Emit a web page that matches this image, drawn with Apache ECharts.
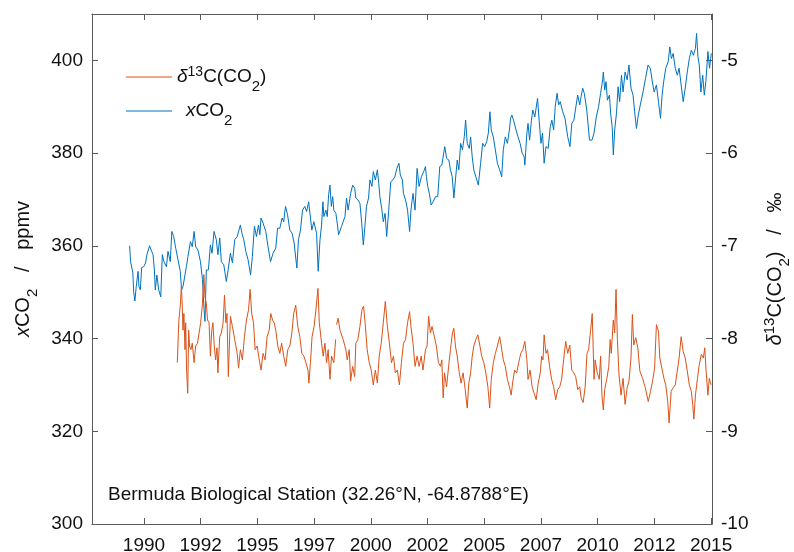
<!DOCTYPE html>
<html><head><meta charset="utf-8">
<script src="https://cdn.jsdelivr.net/npm/echarts@6/dist/echarts.min.js"></script>
<style>html,body{margin:0;padding:0;background:#fff}#c{width:794px;height:552px}</style>
</head><body><div id="c"></div><script>
const FONT = '"Liberation Sans", Arial, sans-serif';
const TXT = '#111';
const AX = '#5a5a5a';
const BLUE = '#0072BD';
const ORANGE = '#D95319';

const xTicks = [1990, 1992.5, 1995, 1997.5, 2000, 2002.5, 2005, 2007.5, 2010, 2012.5, 2015];
const leftTicks = [300, 320, 340, 360, 380, 400];
const rightTicks = [-10, -9, -8, -7, -6, -5];
const stationLabel = 'Bermuda Biological Station (32.26°N, -64.8788°E)';

// xCO2 (ppmv): [decimal year, value]
const xco2 = [
[1989.37,360.0],[1989.41,356.6],[1989.51,354.2],[1989.55,349.9],[1989.60,348.1],[1989.66,351.2],[1989.74,354.5],[1989.78,351.2],[1989.84,350.5],[1989.90,355.3],
[1989.99,355.5],[1990.07,356.3],[1990.13,358.1],[1990.25,360.0],[1990.34,358.8],[1990.40,358.1],[1990.46,354.8],[1990.50,350.5],[1990.57,353.7],[1990.65,350.5],
[1990.74,349.0],[1990.81,358.1],[1990.88,356.6],[1990.99,355.5],[1991.06,358.8],[1991.16,356.6],[1991.23,363.1],[1991.31,362.0],[1991.40,359.5],[1991.50,357.0],
[1991.60,354.5],[1991.66,350.5],[1991.72,351.2],[1991.87,355.5],[1991.94,357.7],[1992.05,360.9],[1992.13,359.8],[1992.21,363.1],[1992.28,359.8],[1992.38,359.1],
[1992.49,356.6],[1992.58,352.7],[1992.65,346.2],[1992.69,343.7],[1992.75,354.8],[1992.84,354.8],[1992.93,360.2],[1993.00,358.4],[1993.09,363.1],[1993.19,361.3],
[1993.26,358.1],[1993.34,361.7],[1993.41,356.6],[1993.52,355.9],[1993.63,352.3],[1993.71,354.8],[1993.81,358.4],[1993.90,356.3],[1994.00,361.3],[1994.11,362.0],
[1994.19,363.4],[1994.25,364.5],[1994.32,362.7],[1994.40,361.3],[1994.49,358.8],[1994.59,357.0],[1994.70,353.7],[1994.78,357.7],[1994.87,364.2],[1994.96,362.0],
[1995.05,364.5],[1995.11,362.4],[1995.16,366.0],[1995.25,364.9],[1995.37,363.1],[1995.47,359.8],[1995.58,356.6],[1995.69,358.4],[1995.81,359.5],[1995.89,363.8],
[1995.99,363.8],[1996.09,366.0],[1996.16,365.2],[1996.24,368.5],[1996.33,366.7],[1996.43,363.4],[1996.53,362.7],[1996.62,360.6],[1996.74,355.2],[1996.81,361.3],
[1996.90,363.4],[1996.99,367.7],[1997.09,368.5],[1997.17,367.4],[1997.26,369.5],[1997.34,369.9],[1997.40,363.4],[1997.49,365.2],[1997.61,362.7],[1997.68,354.5],
[1997.76,361.3],[1997.83,364.5],[1997.89,369.5],[1997.93,366.3],[1998.02,367.7],[1998.08,366.3],[1998.14,371.0],[1998.20,373.1],[1998.26,368.5],[1998.32,370.6],
[1998.37,367.7],[1998.46,367.0],[1998.52,364.9],[1998.58,362.4],[1998.71,364.2],[1998.86,366.3],[1998.93,370.3],[1999.00,367.7],[1999.11,371.3],[1999.20,373.1],
[1999.29,372.4],[1999.34,370.3],[1999.43,369.9],[1999.52,369.2],[1999.60,364.9],[1999.67,360.2],[1999.74,364.2],[1999.81,368.5],[1999.90,370.3],[1999.96,374.2],
[2000.05,372.8],[2000.11,376.0],[2000.20,374.2],[2000.29,376.4],[2000.35,373.5],[2000.40,370.6],[2000.49,367.7],[2000.55,365.2],[2000.63,367.0],[2000.70,362.0],
[2000.79,367.7],[2000.88,373.8],[2000.97,374.2],[2001.06,374.9],[2001.15,376.7],[2001.24,377.8],[2001.30,375.3],[2001.39,374.2],[2001.44,371.3],[2001.53,369.9],
[2001.62,367.7],[2001.71,363.1],[2001.77,367.7],[2001.86,371.3],[2001.95,367.7],[2002.04,376.7],[2002.13,372.8],[2002.23,374.9],[2002.33,376.0],[2002.41,377.1],
[2002.45,374.9],[2002.51,372.8],[2002.58,371.3],[2002.66,368.8],[2002.75,369.5],[2002.85,370.6],[2002.95,370.6],[2003.04,377.1],[2003.13,377.4],[2003.19,377.1],
[2003.26,381.4],[2003.34,378.9],[2003.44,378.5],[2003.51,376.4],[2003.59,374.9],[2003.66,370.3],[2003.73,374.2],[2003.81,378.5],[2003.88,376.4],[2003.96,382.1],
[2004.04,380.7],[2004.12,383.5],[2004.18,387.1],[2004.25,382.1],[2004.34,381.0],[2004.40,383.5],[2004.47,379.2],[2004.54,376.4],[2004.63,374.9],[2004.74,373.1],
[2004.84,377.8],[2004.93,382.1],[2005.02,381.4],[2005.11,382.5],[2005.18,384.3],[2005.25,388.9],[2005.31,385.0],[2005.40,383.5],[2005.49,380.7],[2005.58,377.8],
[2005.68,376.4],[2005.77,374.9],[2005.84,380.7],[2005.93,383.5],[2006.02,382.1],[2006.11,385.0],[2006.16,387.5],[2006.22,388.2],[2006.31,386.8],[2006.40,385.0],
[2006.49,383.5],[2006.58,382.1],[2006.67,380.0],[2006.76,379.2],[2006.79,377.4],[2006.88,384.3],[2006.93,386.4],[2007.00,382.8],[2007.08,387.1],[2007.14,389.3],
[2007.23,387.8],[2007.35,391.8],[2007.42,387.1],[2007.50,382.1],[2007.57,384.3],[2007.64,377.8],[2007.72,381.4],[2007.82,381.0],[2007.91,385.7],[2007.98,387.1],
[2008.06,385.0],[2008.13,390.0],[2008.21,392.9],[2008.28,390.4],[2008.35,391.1],[2008.46,388.9],[2008.56,387.5],[2008.68,383.5],[2008.78,381.4],[2008.86,386.4],
[2008.95,387.1],[2009.03,389.7],[2009.12,392.5],[2009.21,390.4],[2009.27,392.2],[2009.34,394.0],[2009.41,392.9],[2009.52,389.3],[2009.64,382.8],[2009.75,382.8],
[2009.84,384.3],[2009.94,387.8],[2010.04,390.0],[2010.13,392.9],[2010.22,395.8],[2010.25,397.5],[2010.31,393.6],[2010.37,395.4],[2010.43,391.4],[2010.52,392.5],
[2010.57,388.6],[2010.64,385.7],[2010.69,379.6],[2010.75,385.0],[2010.83,388.6],[2010.90,394.3],[2010.97,391.1],[2011.05,396.8],[2011.12,393.2],[2011.21,397.5],
[2011.30,395.8],[2011.38,399.0],[2011.47,394.0],[2011.56,392.5],[2011.63,388.9],[2011.71,385.3],[2011.79,388.2],[2011.88,390.4],[2012.00,393.2],[2012.11,396.1],
[2012.22,399.0],[2012.32,398.3],[2012.41,395.4],[2012.49,393.2],[2012.59,394.7],[2012.68,391.1],[2012.77,387.5],[2012.84,392.5],[2012.91,395.4],[2013.00,398.3],
[2013.11,399.7],[2013.18,402.9],[2013.25,400.4],[2013.33,401.5],[2013.42,398.3],[2013.51,396.8],[2013.59,398.3],[2013.68,394.7],[2013.77,391.1],[2013.86,394.0],
[2013.95,397.5],[2014.04,400.4],[2014.13,402.2],[2014.22,401.1],[2014.31,402.6],[2014.36,405.8],[2014.42,400.8],[2014.48,399.0],[2014.55,393.2],[2014.63,396.8],
[2014.70,392.5],[2014.77,395.4],[2014.86,401.9],[2014.93,398.3],[2015.01,401.5]
];

// delta13C(CO2) (permil): [decimal year, value]; null marks a data gap
const d13c = [
[1991.47,-8.26],[1991.54,-7.80],[1991.60,-7.65],[1991.65,-7.44],[1991.69,-7.65],[1991.72,-7.91],[1991.76,-7.73],[1991.81,-8.12],[1991.84,-7.83],[1991.88,-8.34],
[1991.93,-8.59],[1991.97,-7.91],[1992.01,-8.08],[1992.07,-8.12],[1992.13,-8.05],[1992.21,-8.26],[1992.28,-8.08],[1992.36,-8.05],[1992.43,-7.94],[1992.50,-7.83],
[1992.58,-7.62],[1992.64,-7.31],[1992.69,-7.55],[1992.75,-7.62],[1992.80,-7.80],[1992.87,-7.83],[1992.93,-8.19],[1992.99,-7.91],[1993.04,-7.83],[1993.10,-8.08],
[1993.16,-8.23],[1993.22,-8.10],[1993.26,-8.37],[1993.34,-7.98],[1993.41,-7.94],[1993.49,-7.83],[1993.55,-7.53],[1993.61,-7.83],[1993.66,-7.73],[1993.72,-8.41],
[1993.81,-7.76],[1993.90,-7.87],[1994.00,-8.01],[1994.11,-8.16],[1994.17,-8.32],[1994.25,-8.12],[1994.34,-8.23],[1994.43,-7.98],[1994.52,-7.80],[1994.61,-7.69],
[1994.68,-7.47],[1994.75,-7.73],[1994.83,-7.83],[1994.90,-8.12],[1994.99,-8.08],[1995.07,-8.21],[1995.16,-8.34],[1995.25,-8.16],[1995.34,-8.23],[1995.43,-7.98],
[1995.52,-7.91],[1995.59,-7.73],[1995.67,-7.80],[1995.74,-7.83],[1995.81,-7.91],[1995.90,-8.08],[1995.99,-8.16],[1996.07,-8.05],[1996.16,-8.19],[1996.25,-8.30],
[1996.34,-8.12],[1996.43,-8.08],[1996.52,-7.94],[1996.60,-7.73],[1996.69,-7.64],[1996.78,-7.87],[1996.87,-7.98],[1996.96,-8.16],[1997.05,-8.19],[1997.14,-8.26],
[1997.23,-8.34],[1997.27,-8.48],[1997.34,-8.26],[1997.41,-7.98],[1997.50,-7.87],[1997.58,-7.69],[1997.67,-7.46],[1997.73,-7.83],[1997.83,-8.05],[1997.90,-8.19],
[1997.98,-8.05],[1998.05,-8.26],[1998.12,-8.12],[1998.20,-8.44],[1998.27,-8.19],[1998.37,-8.26],[1998.45,-8.01],[1998.47,null],[1998.49,-7.85],[1998.56,-7.78],
[1998.64,-7.91],[1998.78,-8.01],[1998.90,-8.12],[1998.96,-8.23],[1999.05,-8.12],[1999.11,-8.46],[1999.20,-8.30],[1999.29,-8.41],[1999.34,-8.05],[1999.43,-8.01],
[1999.52,-7.87],[1999.61,-7.69],[1999.68,-7.65],[1999.75,-7.83],[1999.84,-8.12],[1999.93,-8.26],[2000.02,-8.34],[2000.11,-8.50],[2000.20,-8.34],[2000.29,-8.48],
[2000.37,-8.19],[2000.46,-8.05],[2000.55,-7.83],[2000.64,-7.60],[2000.73,-7.87],[2000.82,-8.05],[2000.91,-8.26],[2001.00,-8.19],[2001.08,-8.37],[2001.17,-8.34],
[2001.26,-8.50],[2001.35,-8.26],[2001.44,-8.05],[2001.53,-8.01],[2001.62,-7.83],[2001.71,-7.71],[2001.77,-7.87],[2001.86,-8.05],[2001.95,-8.30],[2002.04,-8.19],
[2002.13,-8.30],[2002.22,-8.19],[2002.30,-8.34],[2002.41,-8.12],[2002.48,-8.08],[2002.55,-7.76],[2002.63,-7.94],[2002.70,-7.87],[2002.80,-7.98],[2002.89,-8.08],
[2002.98,-8.26],[2003.07,-8.30],[2003.13,-8.23],[2003.19,-8.64],[2003.25,-8.37],[2003.34,-8.52],[2003.43,-8.30],[2003.51,-8.12],[2003.60,-7.94],[2003.66,-7.89],
[2003.73,-8.08],[2003.81,-8.19],[2003.90,-8.37],[2003.98,-8.48],[2004.07,-8.37],[2004.16,-8.55],[2004.25,-8.75],[2004.32,-8.48],[2004.40,-8.37],[2004.47,-8.19],
[2004.54,-8.08],[2004.63,-8.01],[2004.72,-7.96],[2004.81,-8.08],[2004.89,-8.19],[2004.98,-8.26],[2005.07,-8.37],[2005.16,-8.52],[2005.24,-8.75],[2005.31,-8.44],
[2005.40,-8.26],[2005.49,-8.16],[2005.58,-8.08],[2005.68,-7.98],[2005.75,-8.08],[2005.84,-8.23],[2005.93,-8.30],[2006.02,-8.44],[2006.11,-8.52],[2006.19,-8.61],
[2006.25,-8.48],[2006.34,-8.34],[2006.43,-8.37],[2006.52,-8.26],[2006.61,-8.16],[2006.70,-8.12],[2006.79,-8.03],[2006.88,-8.23],[2006.93,-8.44],[2007.02,-8.34],
[2007.11,-8.52],[2007.20,-8.59],[2007.29,-8.66],[2007.38,-8.48],[2007.47,-8.37],[2007.53,-8.19],[2007.59,-8.23],[2007.64,-7.96],[2007.72,-8.16],[2007.79,-8.12],
[2007.88,-8.30],[2007.97,-8.44],[2008.06,-8.52],[2008.15,-8.66],[2008.24,-8.55],[2008.33,-8.52],[2008.41,-8.44],[2008.50,-8.23],[2008.59,-8.03],[2008.68,-8.16],
[2008.77,-8.07],[2008.86,-8.34],[2008.95,-8.37],[2009.03,-8.41],[2009.12,-8.55],[2009.21,-8.52],[2009.27,-8.64],[2009.36,-8.69],[2009.45,-8.52],[2009.53,-8.16],
[2009.60,-8.12],[2009.69,-7.91],[2009.76,-7.73],[2009.84,-8.44],[2009.89,-8.23],[2009.98,-8.37],[2010.07,-8.44],[2010.13,-8.19],[2010.19,-8.62],[2010.25,-8.77],
[2010.31,-8.55],[2010.40,-8.44],[2010.49,-8.30],[2010.55,-8.01],[2010.60,-8.16],[2010.69,-7.80],[2010.75,-7.94],[2010.81,-7.47],[2010.87,-8.01],[2010.94,-8.39],
[2011.03,-8.61],[2011.12,-8.43],[2011.21,-8.71],[2011.30,-8.53],[2011.38,-8.46],[2011.47,-8.21],[2011.53,-7.74],[2011.59,-8.07],[2011.68,-7.99],[2011.77,-8.10],
[2011.86,-8.35],[2011.98,-8.43],[2012.10,-8.53],[2012.23,-8.68],[2012.33,-8.57],[2012.42,-8.46],[2012.51,-8.32],[2012.59,-7.85],[2012.68,-7.92],[2012.74,-8.21],
[2012.83,-8.32],[2012.92,-8.43],[2013.00,-8.50],[2013.09,-8.68],[2013.15,-8.91],[2013.24,-8.57],[2013.33,-8.53],[2013.42,-8.50],[2013.51,-8.35],[2013.59,-8.21],
[2013.68,-7.98],[2013.77,-8.14],[2013.86,-8.21],[2013.95,-8.35],[2014.04,-8.50],[2014.13,-8.57],[2014.19,-8.71],[2014.24,-8.87],[2014.31,-8.61],[2014.40,-8.43],
[2014.48,-8.28],[2014.57,-8.17],[2014.66,-8.21],[2014.72,-8.10],[2014.78,-8.35],[2014.86,-8.61],[2014.92,-8.43],[2015.00,-8.50]
];

const baseTxt = {fontSize: 19, fontFamily: FONT, color: TXT, verticalAlign: 'middle'};
const rich = {
  n: Object.assign({}, baseTxt),
  i: Object.assign({}, baseTxt, {fontStyle: 'italic'}),
  ix: Object.assign({}, baseTxt, {fontStyle: 'italic', padding: [0, 0, 0, 9]}),
  sub: Object.assign({}, baseTxt, {fontSize: 15, padding: [19, 0, 0, 0]}),
  sup: Object.assign({}, baseTxt, {fontSize: 14, padding: [0, 0, 10, 0]})
};
const nameRich = {
  n: Object.assign({}, baseTxt, {fontSize: 20}),
  i: Object.assign({}, baseTxt, {fontSize: 20, fontStyle: 'italic'}),
  sub: Object.assign({}, baseTxt, {fontSize: 15, padding: [19, 0, 0, 0]}),
  sup: Object.assign({}, baseTxt, {fontSize: 15, padding: [0, 0, 10, 0]})
};

const chart = echarts.init(document.getElementById('c'), null, {renderer: 'canvas'});
const xCommon = {
  type: 'value', min: 1987.71, max: 2015.04,
  axisLine: {show: true, onZero: false, lineStyle: {color: AX, width: 1}},
  axisTick: {show: true, inside: true, length: 6, customValues: xTicks, lineStyle: {color: AX}},
  splitLine: {show: false}
};
chart.setOption({
  animation: false,
  backgroundColor: '#fff',
  grid: {left: 92, right: 82, top: 14, bottom: 28, containLabel: false, outerBoundsMode: 'none'},
  legend: {
    orient: 'vertical', left: 126, top: 65, padding: 0, itemGap: 7.5,
    itemWidth: 46, itemHeight: 1.2, icon: 'rect',
    data: ['d13C', 'xCO2'],
    formatter: function (n) {
      return n === 'd13C' ? '{i|δ}{sup|13}{n|C(CO}{sub|2}{n|)}' : '{ix|x}{n|CO}{sub|2}';
    },
    textStyle: {fontSize: 19, fontFamily: FONT, color: TXT, rich: rich}
  },
  xAxis: [
    Object.assign({}, xCommon, {
      position: 'bottom',
      axisLabel: {customValues: xTicks, formatter: function (v) { return String(Math.floor(v)); },
        margin: 12, fontSize: 19, fontFamily: FONT, color: TXT}
    }),
    Object.assign({}, xCommon, {position: 'top', axisLabel: {show: false}})
  ],
  yAxis: [
    {
      type: 'value', min: 300, max: 410, position: 'left',
      axisLine: {show: true, onZero: false, lineStyle: {color: AX, width: 1}},
      axisTick: {show: true, inside: true, length: 6, customValues: leftTicks, lineStyle: {color: AX}},
      axisLabel: {customValues: leftTicks, margin: 9, fontSize: 19, fontFamily: FONT, color: TXT},
      splitLine: {show: false},
      name: '{i|x}{n|CO}{sub|2}{n|   /   ppmv}',
      nameLocation: 'middle', nameRotate: 90, nameGap: 49,
      nameTextStyle: {fontSize: 20, fontFamily: FONT, color: TXT, rich: nameRich}
    },
    {
      type: 'value', min: -10, max: -4.5, position: 'right',
      axisLine: {show: true, onZero: false, lineStyle: {color: AX, width: 1}},
      axisTick: {show: true, inside: true, length: 6, customValues: rightTicks, lineStyle: {color: AX}},
      axisLabel: {customValues: rightTicks, margin: 9, fontSize: 19, fontFamily: FONT, color: TXT},
      splitLine: {show: false},
      name: '{i|δ}{sup|13}{n|C(CO}{sub|2}{n|)   /   ‰}',
      nameLocation: 'middle', nameRotate: 90, nameGap: 46,
      nameTextStyle: {fontSize: 20, fontFamily: FONT, color: TXT, rich: nameRich}
    }
  ],
  graphic: [{
    type: 'text', x: 108, y: 485, silent: true,
    style: {text: stationLabel, fontSize: 19, fontFamily: FONT, fill: TXT}
  }],
  series: [
    {name: 'xCO2', type: 'line', xAxisIndex: 0, yAxisIndex: 0, data: xco2, symbol: 'none', showSymbol: false,
      lineStyle: {color: BLUE, width: 1}, itemStyle: {color: BLUE}},
    {name: 'd13C', type: 'line', xAxisIndex: 0, yAxisIndex: 1, data: d13c, symbol: 'none', showSymbol: false,
      connectNulls: false, lineStyle: {color: ORANGE, width: 1}, itemStyle: {color: ORANGE}}
  ]
});
</script></body></html>
